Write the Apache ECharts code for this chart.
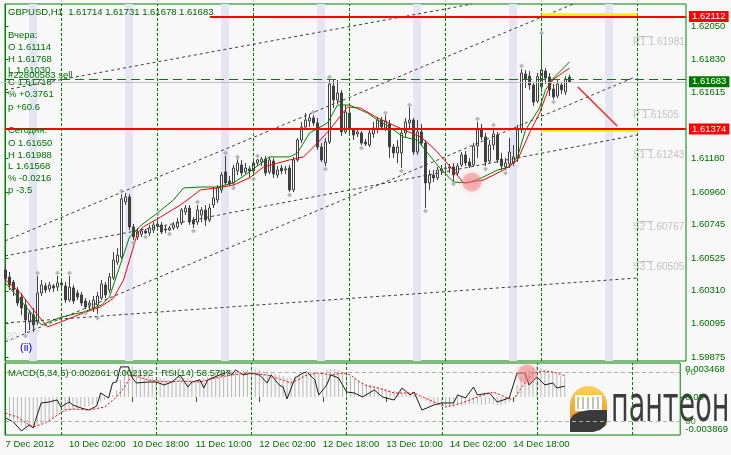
<!DOCTYPE html>
<html><head><meta charset="utf-8">
<script src="https://cdn.jsdelivr.net/npm/echarts@6/dist/echarts.min.js"></script>
<style>html,body{margin:0;padding:0;background:#f8f8f8}#c{width:731px;height:455px}</style>
</head><body><div id="c"></div>
<script>
// ---------- data ----------
const symbolTitle = 'GBPUSD,H1  1.61714 1.61731 1.61678 1.61683';
const xTickBars = [0,16,32,48,64,80,96,112,128];
const xTickLabels = ['7 Dec 2012','10 Dec 02:00','10 Dec 18:00','11 Dec 10:00','12 Dec 02:00','12 Dec 18:00','13 Dec 10:00','14 Dec 02:00','14 Dec 18:00'];
const priceTicks = [1.62050,1.61830,1.61615,1.61180,1.60960,1.60745,1.60525,1.60310,1.60095,1.59875];

const open = [
1.60447,1.60401,1.60368,1.60316,1.6027,1.60217,1.60105,1.60151,1.60105,1.60296,
1.60342,1.60322,1.60342,1.60335,1.60362,1.60342,1.6025,1.60329,1.60296,1.60283,
1.60243,1.60217,1.60197,1.60217,1.60263,1.60349,1.60316,1.60394,1.60499,1.60532,
1.60894,1.60927,1.6073,1.60664,1.60683,1.60703,1.6069,1.6071,1.60736,1.60743,
1.60716,1.6071,1.60723,1.6073,1.60756,1.60828,1.60854,1.60775,1.60762,1.60808,
1.60841,1.60775,1.60874,1.60907,1.60973,1.61091,1.61032,1.61019,1.61098,1.61137,
1.61091,1.61111,1.61098,1.6115,1.61157,1.61176,1.61091,1.61163,1.61071,1.61117,
1.61104,1.61117,1.60973,1.6117,1.61301,1.61386,1.61426,1.61446,1.61413,1.61255,
1.6115,1.61288,1.61656,1.61564,1.6161,1.61354,1.61478,1.61367,1.61341,1.61347,
1.61288,1.61268,1.61341,1.61373,1.61432,1.6138,1.61406,1.61255,1.61216,1.61216,
1.61347,1.61413,1.61432,1.61222,1.61354,1.61281,1.61019,1.61071,1.61052,1.61098,
1.61114,1.61117,1.61124,1.61084,1.61137,1.61203,1.61157,1.61137,1.61262,1.61367,
1.61321,1.61163,1.61268,1.61334,1.61176,1.61124,1.61144,1.6115,1.61183,1.61367,
1.61735,1.61721,1.61662,1.61557,1.6165,1.61754,1.61715,1.61636,1.6159,1.61662,
1.61616,1.61714];
const high = [
1.60486,1.60434,1.60381,1.60335,1.60296,1.6025,1.60184,1.60197,1.60408,1.60381,
1.60362,1.60368,1.60355,1.60408,1.60381,1.60368,1.60408,1.60349,1.60316,1.60303,
1.60263,1.6025,1.60276,1.60303,1.60381,1.60368,1.60427,1.60565,1.60591,1.60946,
1.60953,1.60946,1.60749,1.60723,1.60723,1.60716,1.60743,1.60762,1.60795,1.60762,
1.60736,1.60736,1.60762,1.60789,1.60854,1.60874,1.60874,1.60795,1.60874,1.60861,
1.60874,1.60881,1.60992,1.61005,1.61091,1.61196,1.61065,1.61137,1.61176,1.6117,
1.6115,1.6113,1.6117,1.61176,1.6119,1.61196,1.6119,1.61183,1.6113,1.61137,
1.6113,1.61137,1.6119,1.61314,1.61419,1.61478,1.61472,1.61465,1.61446,1.61281,
1.61314,1.61702,1.61695,1.61695,1.6163,1.61531,1.61518,1.6138,1.6138,1.6136,
1.61308,1.61367,1.61419,1.61452,1.61452,1.61465,1.61432,1.61275,1.61301,1.61367,
1.61446,1.61518,1.61446,1.61432,1.61406,1.61301,1.61104,1.61104,1.61124,1.61137,
1.61144,1.61144,1.6115,1.6115,1.61222,1.61229,1.61183,1.61281,1.61419,1.61406,
1.61347,1.61301,1.6138,1.61354,1.61216,1.61183,1.61314,1.61268,1.614,1.61768,
1.61761,1.61754,1.61682,1.61741,1.61988,1.61774,1.61741,1.61669,1.61695,1.61682,
1.61721,1.61731];
const low = [
1.60362,1.60316,1.60276,1.6021,1.60151,1.60033,1.60053,1.6004,1.60086,1.60276,
1.60296,1.60303,1.60303,1.60309,1.60316,1.6023,1.60237,1.60224,1.6025,1.6021,
1.60191,1.60184,1.60171,1.60158,1.6025,1.60263,1.60296,1.60381,1.6048,1.60519,
1.60874,1.6071,1.60644,1.60644,1.60664,1.60683,1.6067,1.6069,1.6071,1.60683,
1.6069,1.60703,1.6071,1.60716,1.60743,1.60808,1.60743,1.60723,1.60743,1.60762,
1.60736,1.60762,1.60854,1.60887,1.60953,1.61005,1.60999,1.61005,1.61071,1.61065,
1.61078,1.61052,1.61065,1.6113,1.6113,1.61065,1.61078,1.61052,1.61052,1.61078,
1.61078,1.6096,1.6096,1.61157,1.61281,1.61367,1.61386,1.61393,1.61236,1.61157,
1.6113,1.61275,1.61511,1.61537,1.61327,1.61341,1.61347,1.61301,1.61321,1.61268,
1.61262,1.61255,1.61314,1.61347,1.61367,1.6136,1.61183,1.61183,1.6115,1.61117,
1.61314,1.6138,1.61203,1.61203,1.61262,1.60854,1.60973,1.61025,1.61038,1.61071,
1.61084,1.61084,1.6103,1.61065,1.61124,1.6113,1.61117,1.61124,1.61183,1.61301,
1.6113,1.6115,1.61236,1.6115,1.61104,1.61104,1.61117,1.6113,1.61157,1.61347,
1.61643,1.6163,1.61524,1.61544,1.61616,1.61669,1.6159,1.61568,1.61577,1.61603,
1.61597,1.61678];
const close = [
1.60388,1.60349,1.60316,1.6023,1.60197,1.60119,1.60165,1.60086,1.60296,1.60349,
1.60316,1.60349,1.60329,1.60362,1.60349,1.6025,1.60335,1.60243,1.6027,1.6023,
1.60204,1.6023,1.6025,1.60276,1.60355,1.60283,1.60401,1.60512,1.60545,1.60914,
1.60927,1.6073,1.60664,1.60697,1.60703,1.6069,1.60723,1.60743,1.60749,1.60697,
1.6071,1.60723,1.60743,1.60762,1.60841,1.60854,1.60762,1.60749,1.60841,1.60841,
1.60775,1.60854,1.6092,1.60986,1.61071,1.61019,1.61012,1.61117,1.6115,1.61084,
1.61117,1.61098,1.6115,1.6117,1.61176,1.61084,1.6117,1.61078,1.61104,1.61098,
1.61111,1.60973,1.6117,1.61301,1.61386,1.61432,1.61446,1.61413,1.61255,1.6117,
1.61288,1.61669,1.61564,1.6161,1.61354,1.61485,1.61367,1.61334,1.61354,1.61281,
1.61275,1.61347,1.6138,1.61432,1.61386,1.61426,1.61255,1.61216,1.61255,1.61347,
1.61419,1.61432,1.61222,1.61354,1.61281,1.61019,1.61071,1.61052,1.61104,1.61111,
1.61117,1.61124,1.61071,1.6113,1.61203,1.6115,1.6113,1.61262,1.61367,1.61321,
1.61157,1.61268,1.61341,1.6117,1.6113,1.6115,1.61222,1.6119,1.61367,1.61741,
1.61702,1.61662,1.6155,1.61718,1.61761,1.61708,1.6163,1.61584,1.61669,1.6163,
1.61702,1.61683];

// moving averages (sampled along the bars)
const maFastBars = [0,9,14,19.5,24,26,29.5,31,34,38,42,44.5,49,53,57,61,66,71,73,76,80.5,83,86,90.5,93,96,99.5,103,105.5,109,112,115.5,119,123,126,128,130,133.5,135,137,141];
const maFastVals = [1.60362,1.60086,1.60138,1.60171,1.60217,1.6027,1.60545,1.60664,1.60743,1.60822,1.60907,1.60986,1.60992,1.60992,1.61019,1.61091,1.6119,1.6119,1.61216,1.61347,1.61413,1.61531,1.61531,1.61478,1.61432,1.61386,1.61321,1.61301,1.61216,1.61104,1.61025,1.61019,1.61052,1.61104,1.61124,1.6119,1.61367,1.61511,1.6163,1.61708,1.61814];
const maSlowBars = [0,3.75,7,10.5,13.75,19.5,23.75,27,29.5,31.75,33,34.5,38.75,43.75,48.75,53,57,61,64.5,71,74.5,78,81,85.5,88.75,93,98,103.75,107,111.25,114.5,119.5,124.5,128,131,133.5,135,136.75,141];
const maSlowVals = [1.60381,1.60296,1.60184,1.60073,1.60105,1.60165,1.60204,1.60263,1.60381,1.60578,1.6069,1.6073,1.60795,1.60874,1.60973,1.60986,1.61005,1.61052,1.61124,1.6117,1.6119,1.61281,1.61367,1.61518,1.61511,1.61446,1.61386,1.61321,1.61249,1.61124,1.61019,1.61038,1.61104,1.6117,1.61347,1.61478,1.61584,1.61695,1.61774];

// fractal markers
const fracUpBars = [8,13,16,29,38,48,55,58,63,77,81,95,101,118,122,129,134];
const fracUpVals = [1.60427,1.60427,1.60427,1.60966,1.60815,1.60894,1.61216,1.6119,1.61196,1.61485,1.61715,1.61478,1.61531,1.61439,1.614,1.61787,1.62004];
const fracDnBars = [5,20,23,32,35,41,47,57,62,71,80,89,99,105,112,120,125,137];
const fracDnVals = [1.60013,1.60165,1.60132,1.60624,1.60664,1.60683,1.60703,1.60986,1.61045,1.6094,1.61111,1.61249,1.61098,1.60835,1.61012,1.61111,1.61084,1.6155];

// levels
const resistance = 1.62112, support = 1.61374, bid = 1.61683, orderLevel = 1.61700;
const pivotNames = ['R1','P','S1','S2','S3'];
const pivotVals = [1.61981,1.61505,1.61243,1.60767,1.60505];
// trend lines: [barStart, priceStart, barEnd, priceEnd]
const trendA  = [-0.125,1.6163, 116.6,1.62194];
const trendS1 = [-0.125,1.60638,141.9,1.62194];
const trendS2 = [-0.125,1.59974,157.4,1.61715];
const trendM  = [-0.125,1.60539,157.9,1.61334];
const trendL  = [-0.125,1.60099,157.9,1.60394];
const redArrow = [143.1,1.61649,152.9,1.61393];
const daySeparators = [14,38,62,86,110,134,158];
const sessionBands = [5.9,29.9,53.9,77.9,101.9,125.9,149.9];

// MACD / RSI
const macdHist = [
-0.00183,-0.00214,-0.00234,-0.00265,-0.00285,-0.00306,-0.00316,-0.00306,-0.00296,-0.00275,
-0.00255,-0.00234,-0.00214,-0.00194,-0.00173,-0.00153,-0.00143,-0.00132,-0.00122,-0.00112,
-0.00102,-0.00092,-0.00082,-0.00071,-0.00051,-0.00031,-0.0001,0.0002,0.00071,0.00173,
0.00275,0.00316,0.00306,0.00275,0.00245,0.00224,0.00214,0.00204,0.00194,0.00194,
0.00183,0.00173,0.00173,0.00183,0.00194,0.00194,0.00183,0.00173,0.00173,0.00183,
0.00194,0.00204,0.00214,0.00245,0.00265,0.00275,0.00275,0.00265,0.00255,0.00255,
0.00265,0.00275,0.00285,0.00285,0.00275,0.00265,0.00255,0.00245,0.00234,0.00224,
0.00214,0.00194,0.00194,0.00214,0.00234,0.00255,0.00265,0.00265,0.00255,0.00234,
0.00245,0.00275,0.00285,0.00285,0.00275,0.00255,0.00234,0.00214,0.00194,0.00173,
0.00153,0.00132,0.00122,0.00112,0.00102,0.00092,0.00082,0.00071,0.00061,0.00051,
0.00041,0.00041,0.00031,0.0002,0.0001,-0.0002,-0.00041,-0.00061,-0.00071,-0.00082,
-0.00092,-0.00092,-0.00102,-0.00102,-0.00092,-0.00092,-0.00082,-0.00071,-0.00071,-0.00071,
-0.00082,-0.00082,-0.00071,-0.00071,-0.00082,-0.00082,-0.00071,-0.00051,0,0.00122,
0.00204,0.00255,0.00275,0.00296,0.00316,0.00296,0.00275,0.00255,0.00245,0.00234,
0.00214,0.00206];
const macdSignalBars = [0,3,6,7,10,12,15,17,21,25,28,30,32,36,41,44,49,53,57,61,66,70,72,76,79,82,85,87,89,91,94,98,103,107,111,115,119,123,128,130,133,136,138,141];
const macdSignalVals = [-0.00163,-0.00204,-0.00285,-0.00306,-0.00265,-0.00214,-0.00132,-0.00122,-0.00132,-0.00102,0,0.00102,0.00224,0.00173,0.00153,0.00163,0.00153,0.00194,0.00224,0.00245,0.00224,0.00173,0.00143,0.00224,0.00245,0.00224,0.00245,0.00224,0.0016,0.00115,0.00092,0.00041,0.00041,-0.00031,-0.00102,-0.00061,0,0.00051,-0.00031,0.00092,0.00245,0.00265,0.00255,0.00219];
const rsiBars = [0,2,4,6,7,8,9,11,13,14,16,17,19,21,23,24,26,27,28,29,31,32,33,36,38,40,42,44,46,47,49,50,51,54,56,57,58,60,62,64,66,67,69,70,71,73,75,76,78,79,81,82,84,86,88,90,93,95,98,100,102,103,105,108,110,113,114,116,118,119,122,124,127,129,131,132,134,136,138,139,141];
const rsiVals = [32.5,29.2,21.8,26.7,24.3,35,44.8,45.6,47.3,41.5,45.6,43.1,40.7,39,42.3,53,48.9,61.2,62,74.4,74.4,65.3,61.2,62,62,59.6,62,67.8,57.9,62,63.7,57.1,63.7,67.8,70.2,67.8,71.9,67.8,69.4,67.8,61.2,67.8,59.6,57.9,48.1,65.3,69.4,70.2,63.7,51.4,59.6,67.8,65.3,53.8,53,49.7,55.5,49.7,47.2,57.1,51.4,53.8,39,43.1,44.8,44.8,51.4,48.9,57.9,51.4,53,45.6,48.9,69.4,69.4,59.6,66.1,59.6,61.2,57.1,58.6];
const macdRange = [-0.003869, 0.003468];
const rsiLevels = [70, 30];
const highlightMain = [116.6, 1.61025];
const highlightSub = [131.5, 0.00234];

// ---------- chart ----------
const F = '"Liberation Sans",Arial,sans-serif';
const G = '#008000';
const TXT = '#007000';
const XMIN = -0.125, XMAX = 170.125;
const chart = echarts.init(document.getElementById('c'), null, {renderer: 'canvas'});
const zip = (a, b) => a.map((v, i) => [v, b[i]]);
const seg = (t, style) => [{coord: [t[0], t[1]], lineStyle: style}, {coord: [t[2], t[3]]}];
const dashGray = {color: '#3c3c3c', type: [3, 3], width: 1};

const leftText = [
  ['Вчера:', 35], ['O 1.61114', 47], ['H 1.61768', 59], ['L 1.61030', 70], ['C 1.61718', 82],
  ['% +0.3761', 94], ['p +60.6', 107], ['Сегодня:', 130], ['O 1.61650', 143], ['H 1.61988', 155],
  ['L 1.61568', 166], ['% -0.0216', 178], ['p -3.5', 190]
];
const graphics = [];
graphics.push({type: 'text', left: 8, top: 7, z: 50, style: {text: symbolTitle, fill: '#006400', font: '9.5px ' + F}});
leftText.forEach(([t, y]) => graphics.push({type: 'text', left: 8, top: y - 5, z: 50, style: {text: t, fill: TXT, font: '9.5px ' + F}}));
graphics.push({type: 'text', left: 8, top: 70, z: 51, style: {text: '#22800583 sell', fill: TXT, font: '9.5px ' + F}});
graphics.push({type: 'text', left: 8, top: 368, z: 50, style: {text: 'MACD(5,34,5) 0.002061 0.002192   RSI(14) 58.5797', fill: TXT, font: '9.5px ' + F}});
graphics.push({type: 'text', left: 20, top: 342, z: 50, style: {text: '(ii)', fill: '#0000cc', font: '11px ' + F}});
graphics.push({type: 'text', left: 6, top: 332, z: 50, style: {text: '20', fill: '#d4d4d4', font: '10px ' + F}});
// logo
graphics.push({type: 'group', left: 570, top: 386, z: -1, children: [
  {type: 'rect', z: -1, shape: {x: 1, y: 0, width: 37, height: 40, r: [19, 19, 3, 3]}, style: {fill: new echarts.graphic.LinearGradient(0, 0, 0, 1, [{offset: 0, color: '#fbd35a'}, {offset: 1, color: '#e98d1d'}])}},
  {type: 'rect', z: -1, shape: {x: 6, y: 9, width: 27, height: 16}, style: {fill: '#ffffff'}},
  {type: 'rect', z: -1, shape: {x: 8, y: 11, width: 2, height: 12}, style: {fill: '#c8c0b0'}},
  {type: 'rect', z: -1, shape: {x: 13, y: 11, width: 2, height: 12}, style: {fill: '#c8c0b0'}},
  {type: 'rect', z: -1, shape: {x: 18, y: 11, width: 2, height: 12}, style: {fill: '#c8c0b0'}},
  {type: 'rect', z: -1, shape: {x: 23, y: 11, width: 2, height: 12}, style: {fill: '#c8c0b0'}},
  {type: 'rect', z: -1, shape: {x: 28, y: 11, width: 2, height: 12}, style: {fill: '#c8c0b0'}},
  {type: 'polygon', z: -1, shape: {points: [[1,46],[1,34],[4,29],[10,26],[20,24],[38,24],[38,34],[36,40],[31,44],[24,46]]}, style: {fill: '#3a3a3a'}}
]});
graphics.push({type: 'text', left: 611, top: 383, z: -1, scaleX: 0.54, originX: 611, style: {text: 'пантеон', fill: '#3c3c3c', font: '50px "DejaVu Sans",sans-serif'}});

const boxLabel = (txt, bg) => ({show: true, position: 'end', formatter: txt, color: '#fff', backgroundColor: bg, padding: [1, 3, 0, 3], distance: 3, fontSize: 9.5, fontFamily: F});
const hLevels = [
  [{coord: [134, 1.62125], lineStyle: {color: '#ffee00', width: 2.5, type: 'solid'}}, {coord: [158, 1.62125]}],
  [{coord: [134, 1.61362], lineStyle: {color: '#ffee00', width: 2.5, type: 'solid'}}, {coord: [158, 1.61362]}],
  [{coord: [XMIN, orderLevel], lineStyle: {color: G, width: 1, type: [9, 5]}}, {coord: [XMAX, orderLevel]}],
  [{coord: [XMIN, bid], lineStyle: {color: '#c0c0c0', width: 1, type: 'solid'}, label: boxLabel(bid.toFixed(5), '#007800')}, {coord: [XMAX, bid]}],
  [{coord: [51.1, resistance], lineStyle: {color: '#ff0000', width: 2, type: 'solid'}, label: boxLabel(resistance.toFixed(5), '#ff0000')}, {coord: [XMAX, resistance]}],
  [{coord: [XMIN, support], lineStyle: {color: '#ff0000', width: 2, type: 'solid'}, label: boxLabel(support.toFixed(5), '#ff0000')}, {coord: [XMAX, support]}],
  seg(redArrow, {color: '#ff2020', width: 1.5, type: 'solid'})
];
const trendLines = [trendA, trendS1, trendS2, trendM, trendL].map(t => seg(t, dashGray));
const pivotSegs = pivotVals.map(v => [{coord: [157.9, v], lineStyle: {color: '#c0c0c0', width: 1, type: 'solid'}}, {coord: [161.9, v]}]);
const sepLines = daySeparators.map(x => ({xAxis: x}));

const option = {
  animation: false,
  backgroundColor: '#f8f8f8',
  textStyle: {fontFamily: F},
  grid: [
    {left: 5, top: 4, width: 681, height: 357, show: true, borderColor: G, borderWidth: 1, backgroundColor: 'transparent'},
    {left: 5, top: 363, width: 681, height: 72, show: true, borderColor: G, borderWidth: 1, backgroundColor: 'transparent'}
  ],
  xAxis: [
    {type: 'value', gridIndex: 0, min: XMIN, max: XMAX, show: false},
    {type: 'value', gridIndex: 1, min: XMIN, max: XMAX, splitLine: {show: false},
     axisLine: {show: false},
     axisTick: {show: true, customValues: xTickBars, length: 5, lineStyle: {color: G}},
     axisLabel: {customValues: xTickBars, hideOverlap: false, formatter: v => xTickLabels[xTickBars.indexOf(Math.round(v))], align: 'left', margin: 4, color: TXT, fontSize: 9.5, fontFamily: F}}
  ],
  yAxis: [
    {type: 'value', gridIndex: 0, position: 'right', min: 1.59849, max: 1.621945, scale: true, splitLine: {show: false},
     axisLine: {show: true, lineStyle: {color: G}},
     axisTick: {show: true, customValues: priceTicks, length: 3, lineStyle: {color: G}},
     axisLabel: {customValues: priceTicks, formatter: v => v.toFixed(5), color: TXT, fontSize: 9.5, margin: 5, fontFamily: F}},
    {type: 'value', gridIndex: 1, position: 'right', min: macdRange[0], max: macdRange[1], splitLine: {show: false}, z: 20,
     axisLine: {show: true, lineStyle: {color: G}},
     axisTick: {show: false},
     axisLabel: {customValues: [macdRange[1], macdRange[0]], hideOverlap: false, color: TXT, fontSize: 9.5, margin: 5, fontFamily: F,
                 formatter: v => (v > 0 ? '{t|' + v + '}' : '{b|' + v + '}'),
                 rich: {t: {padding: [13, 0, 0, 0], color: TXT, fontSize: 9.5, fontFamily: F},
                        b: {padding: [0, 0, 11, 0], color: TXT, fontSize: 9.5, fontFamily: F}}}},
    {type: 'value', gridIndex: 1, position: 'right', min: 18.5, max: 77.6, splitLine: {show: false}, z: 20,
     axisLine: {show: false}, axisTick: {show: false},
     axisLabel: {customValues: rsiLevels, hideOverlap: false, formatter: v => String(v), color: '#3c9a3c', fontSize: 9.5, margin: 5, fontFamily: F}},
    {type: 'value', gridIndex: 1, position: 'right', min: macdRange[0], max: macdRange[1], splitLine: {show: false}, z: 21,
     axisLine: {show: false},
     axisTick: {show: true, customValues: [0], length: 3, lineStyle: {color: G}},
     axisLabel: {customValues: [0], hideOverlap: false, formatter: () => '0.00', color: TXT, fontSize: 9.5, margin: 5, fontFamily: F}}
  ],
  series: [
    {type: 'candlestick', name: 'GBPUSD', xAxisIndex: 0, yAxisIndex: 0, barWidth: 3,
     encode: {x: 0, y: [1, 2, 3, 4]},
     data: open.map((o, i) => [i, o, close[i], low[i], high[i]]),
     itemStyle: {color: '#ffffff', color0: '#404040', borderColor: '#404040', borderColor0: '#404040', borderWidth: 1},
     markArea: {silent: true, itemStyle: {color: '#e4e6f8'}, data: sessionBands.map(b => [{xAxis: b}, {xAxis: b + 2}])},
     markLine: {silent: true, symbol: ['none', 'none'], label: {show: false}, lineStyle: {color: G, type: [3, 2], width: 1}, data: sepLines}
    },
    {type: 'line', name: 'trend', xAxisIndex: 0, yAxisIndex: 0, data: [], clip: false,
     markLine: {silent: true, symbol: ['none', 'none'], label: {show: false}, data: trendLines.concat(pivotSegs)}},
    {type: 'line', name: 'MA fast', xAxisIndex: 0, yAxisIndex: 0, data: zip(maFastBars, maFastVals), showSymbol: false, lineStyle: {color: '#008000', width: 1}, z: 4},
    {type: 'line', name: 'MA slow', xAxisIndex: 0, yAxisIndex: 0, data: zip(maSlowBars, maSlowVals), showSymbol: false, lineStyle: {color: '#ff0000', width: 1}, z: 4},
    {type: 'scatter', name: 'fractal up', xAxisIndex: 0, yAxisIndex: 0, symbol: 'diamond', symbolSize: 5, itemStyle: {color: '#a8a8a8'}, data: zip(fracUpBars, fracUpVals), z: 5},
    {type: 'scatter', name: 'fractal down', xAxisIndex: 0, yAxisIndex: 0, symbol: 'diamond', symbolSize: 5, itemStyle: {color: '#a8a8a8'}, data: zip(fracDnBars, fracDnVals), z: 5},
    {type: 'scatter', name: 'pivots', xAxisIndex: 0, yAxisIndex: 0, symbolSize: 0, clip: false,
     data: pivotVals.map((v, i) => ({value: [156.9, v], name: pivotNames[i] + ' ' + v.toFixed(5)})),
     label: {show: true, position: [0, 1], align: 'left', verticalAlign: 'top', formatter: p => p.name, color: '#b4b4b4', fontSize: 10, fontFamily: F}},
    {type: 'line', name: 'levels', xAxisIndex: 0, yAxisIndex: 0, data: [], clip: false, z: 6,
     markLine: {silent: true, symbol: ['none', 'none'], label: {show: false}, data: hLevels}},
    {type: 'scatter', name: 'hl', xAxisIndex: 0, yAxisIndex: 0, symbolSize: 19, data: [highlightMain],
     itemStyle: {color: 'rgba(240,120,120,0.55)', shadowBlur: 6, shadowColor: 'rgba(240,120,120,0.7)'}, z: 7},
    {type: 'bar', name: 'MACD', xAxisIndex: 1, yAxisIndex: 1, barWidth: 1, data: zip(macdHist.map((_, i) => i), macdHist),
     itemStyle: {color: '#b8b8b8'},
     markLine: {silent: true, symbol: ['none', 'none'], label: {show: false}, lineStyle: {color: G, type: [3, 2], width: 1}, data: sepLines}},
    {type: 'line', name: 'RSI', xAxisIndex: 1, yAxisIndex: 2, data: zip(rsiBars, rsiVals), showSymbol: false, lineStyle: {color: '#1a1a1a', width: 1}, z: 4,
     markLine: {silent: true, symbol: ['none', 'none'], label: {show: false}, lineStyle: {color: '#b0b0b0', type: [4, 3], width: 1}, data: rsiLevels.map(v => ({yAxis: v}))}},
    {type: 'line', name: 'Signal', xAxisIndex: 1, yAxisIndex: 1, data: zip(macdSignalBars, macdSignalVals), showSymbol: false, lineStyle: {color: '#ff0000', width: 1, type: [2, 2]}, z: 5},
    {type: 'scatter', name: 'hl2', xAxisIndex: 1, yAxisIndex: 1, symbolSize: 19, data: [highlightSub],
     itemStyle: {color: 'rgba(240,120,120,0.55)', shadowBlur: 6, shadowColor: 'rgba(240,120,120,0.7)'}, z: 7}
  ],
  graphic: graphics
};
chart.setOption(option);
</script></body></html>
